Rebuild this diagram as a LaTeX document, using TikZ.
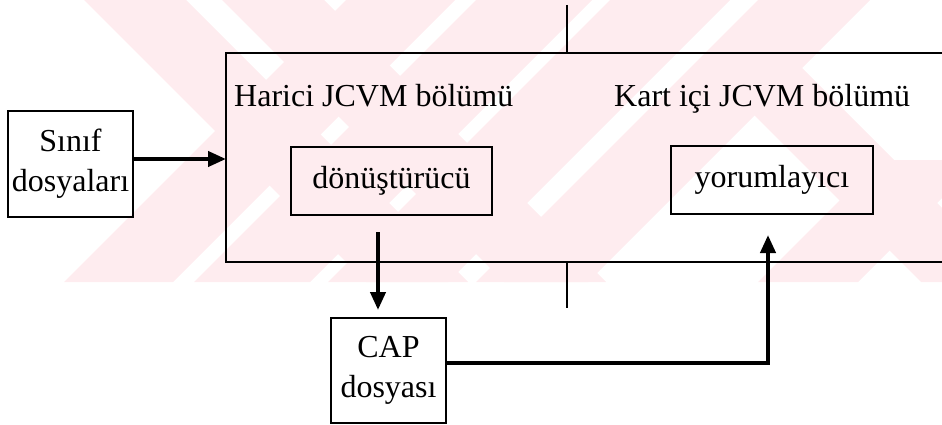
\documentclass[tikz,border=0pt]{standalone}
\usepackage{fontspec}
\setmainfont{Liberation Serif}
\usetikzlibrary{arrows.meta}
\definecolor{wmpink}{RGB}{254,236,239}
\begin{document}
\begin{tikzpicture}[x=1pt,y=-1pt,
  boxtext/.style={font=\fontsize{32}{40}\selectfont},
  box/.style={boxtext, draw=black, line width=2pt, inner sep=0pt, align=center},
  parttitle/.style={boxtext, inner sep=0pt, anchor=base west},
  frame/.style={line width=2pt},
  flow/.style={line width=4pt, -{Triangle[length=18pt,width=15pt]}}
]
\useasboundingbox (0,0) rectangle (942,425);

% light diagonal band pattern in the upper part
\begin{scope}
  \clip (0,0) rectangle (942,282);
  \fill[wmpink] (346,0) -- (455,0) -- (173,282) -- (64,282) -- cycle;
  \fill[wmpink] (476,0) -- (592,0) -- (310,282) -- (194,282) -- cycle;
  \fill[wmpink] (610,0) -- (730,0) -- (448,282) -- (328,282) -- cycle;
  \fill[wmpink] (758,0) -- (870,0) -- (588,282) -- (476,282) -- cycle;
  \fill[wmpink] (84,0) -- (186,0) -- (468,282) -- (366,282) -- cycle;
  \fill[wmpink] (222,0) -- (324,0) -- (606,282) -- (504,282) -- cycle;
  \fill[wmpink] (699,60) -- (794,60) -- (1016,282) -- (921,282) -- cycle;
  \fill[wmpink] (880,160) -- (980,160) -- (858,282) -- (758,282) -- cycle;
\end{scope}

% open frame holding the two JCVM parts
\coordinate (ftr) at (946,53);
\coordinate (ftl) at (226,53);
\coordinate (fbl) at (226,262);
\coordinate (fbr) at (946,262);
\draw[frame] (ftr) -- (ftl) -- (fbl) -- (fbr);

% divider ticks between the two parts
\coordinate (dtop) at (567,5);
\coordinate (dtopend) at (567,53);
\coordinate (dbot) at (567,262);
\coordinate (dbotend) at (567,308);
\draw[frame] (dtop) -- (dtopend);
\draw[frame] (dbot) -- (dbotend);

% part titles
\node[parttitle] (harici) at (234,107) {Harici JCVM bölümü};
\node[parttitle] (kart) at (614,107) {Kart içi JCVM bölümü};

% boxes
\node[box, minimum width=125pt, minimum height=106pt] (sinif) at (70.5,164) {Sınıf\\dosyaları};
\node[box, minimum width=201pt, minimum height=68pt] (donus) at (391.5,181) {dönüştürücü};
\node[box, minimum width=202pt, minimum height=68pt] (yorum) at (772,180) {yorumlayıcı};
\node[box, minimum width=115pt, minimum height=105pt] (cap) at (388.5,370.5) {CAP\\dosyası};

% connectors
\coordinate (inport) at (226,159);
\draw[flow] (sinif.east |- inport) -- (inport);

\coordinate (dsrc) at (378,232);
\draw[flow, shorten >=7pt] (dsrc) -- (dsrc |- cap.north);

\coordinate (ytip) at (768,235);
\draw[flow] ([yshift=7.5pt]cap.east) -| (ytip);
\end{tikzpicture}
\end{document}
